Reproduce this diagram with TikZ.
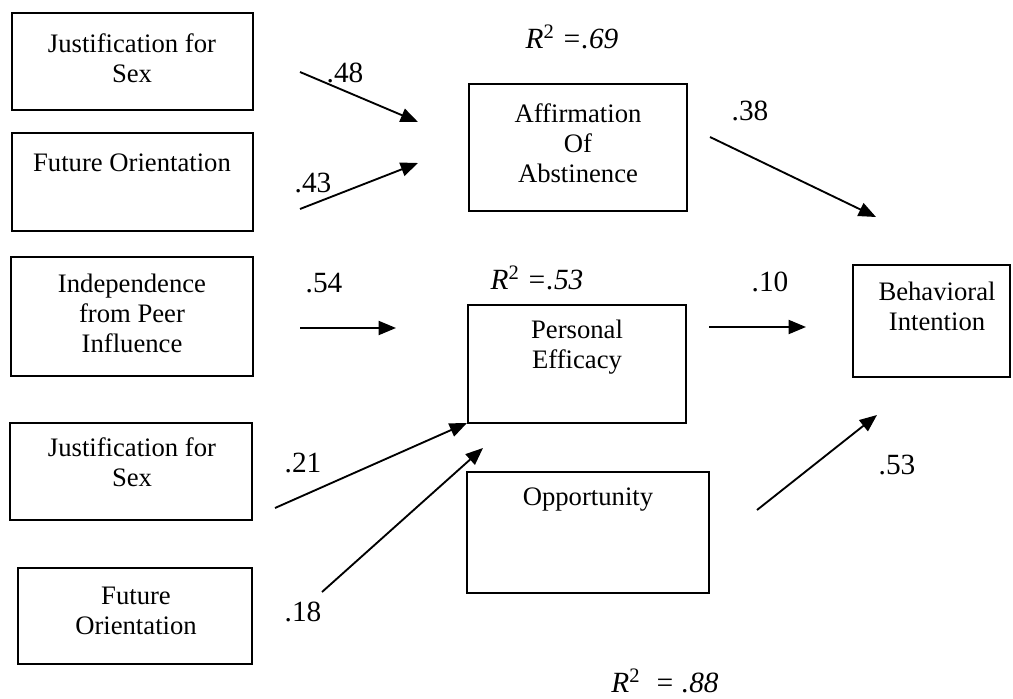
\documentclass[tikz,border=0pt]{standalone}
\usepackage{fontspec}
\setmainfont{Liberation Serif}
\usetikzlibrary{arrows.meta}
\begin{document}
\begin{tikzpicture}[x=0.75pt,y=-0.75pt,
  box/.style={draw=black,line width=1.4pt,inner sep=0pt},
  txt/.style={align=center,font=\fontsize{20}{22.5}\selectfont,inner sep=0pt},
  lbl/.style={font=\fontsize{22}{24}\selectfont,inner sep=0pt},
  rsq/.style={font=\fontsize{22}{24}\selectfont\itshape,inner sep=0pt},
  arr/.style={line width=1.4pt,-{Triangle[length=13pt,width=10.5pt]}}]
\useasboundingbox (0,0) rectangle (1013,699);
% boxes
\draw[box] (12,13) rectangle (253,110) coordinate (b1);
\draw[box] (12,133) rectangle (253,231) coordinate (b2);
\draw[box] (11,257) rectangle (253,376) coordinate (b3);
\draw[box] (10,423) rectangle (252,520) coordinate (b4);
\draw[box] (18,568) rectangle (252,664) coordinate (b5);
\draw[box] (469,84) rectangle (687,211) coordinate (aff);
\draw[box] (468,305) rectangle (686,423) coordinate (pe);
\draw[box] (467,472) rectangle (709,593) coordinate (opp);
\draw[box] (853,265) rectangle (1010,377) coordinate (bi);
% box texts
\node[txt] (t1) at (132,58) {Justification for\\Sex};
\node[txt] (t2) at (132,163) {Future Orientation};
\node[txt] (t3) at (132,313) {Independence\\from Peer\\Influence};
\node[txt] (t4) at (132,462) {Justification for\\Sex};
\node[txt] (t5) at (136,611) {Future\\Orientation};
\node[txt] (taff) at (578,143) {Affirmation\\Of\\Abstinence};
\node[txt] (tpe) at (577,347) {Personal\\Efficacy};
\node[txt] (topp) at (588,500) {Opportunity};
\node[txt] (tbi) at (937,306) {Behavioral\\Intention};
% arrow end points
\coordinate (a1s) at (300,72);  \coordinate (a1e) at (418,122);
\coordinate (a2s) at (300,209); \coordinate (a2e) at (418,163);
\coordinate (a3s) at (300,328); \coordinate (a3e) at (396,328);
\coordinate (a4s) at (275,508); \coordinate (a4e) at (467,423);
\coordinate (a5s) at (322,592); \coordinate (a5e) at (483,448);
\coordinate (a6s) at (710,137); \coordinate (a6e) at (876,217);
\coordinate (a7s) at (709,327); \coordinate (a7e) at (806,327);
\coordinate (a8s) at (757,510); \coordinate (a8e) at (877,415);
\draw[arr] (a1s) -- (a1e);
\draw[arr] (a2s) -- (a2e);
\draw[arr] (a3s) -- (a3e);
\draw[arr] (a4s) -- (a4e);
\draw[arr] (a5s) -- (a5e);
\draw[arr] (a6s) -- (a6e);
\draw[arr] (a7s) -- (a7e);
\draw[arr] (a8s) -- (a8e);
% coefficient labels
\node[lbl] (l48) at (345,73) {.48};
\node[lbl] (l43) at (313,183) {.43};
\node[lbl] (l54) at (324,283) {.54};
\node[lbl] (l21) at (303,463) {.21};
\node[lbl] (l18) at (303,612) {.18};
\node[lbl] (l38) at (750,111) {.38};
\node[lbl] (l10) at (770,282) {.10};
\node[lbl] (l53) at (897,465) {.53};
\node[rsq] (r69) at (572,37) {R\textsuperscript{\upshape 2} =.69};
\node[rsq] (r53) at (537,278) {R\textsuperscript{\upshape 2} =.53};
\node[rsq] (r88) at (665,681) {R\textsuperscript{\upshape 2}\ \ = .88};
\end{tikzpicture}
\end{document}
